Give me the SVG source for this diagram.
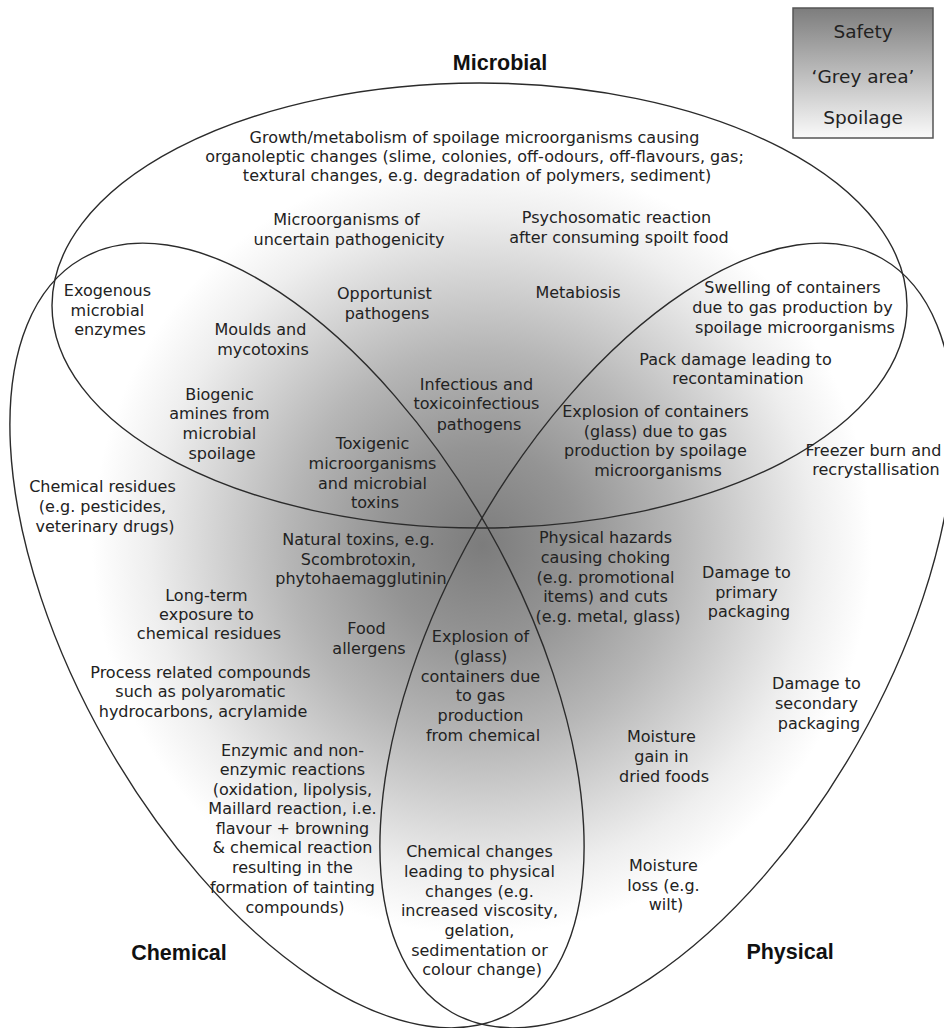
<svg xmlns="http://www.w3.org/2000/svg" width="944" height="1028" viewBox="0 0 944 1028">
<defs>
<radialGradient id="greyArea" gradientUnits="userSpaceOnUse" cx="482" cy="545" r="390">
<stop offset="0" stop-color="#7c7c7c"/>
<stop offset="0.25" stop-color="#949494"/>
<stop offset="0.5" stop-color="#b6b6b6"/>
<stop offset="0.7" stop-color="#d6d6d6"/>
<stop offset="0.85" stop-color="#eeeeee"/>
<stop offset="1" stop-color="#ffffff"/>
</radialGradient>
<linearGradient id="legendGrad" x1="0" y1="0" x2="0" y2="1">
<stop offset="0" stop-color="#7d7d7d"/>
<stop offset="1" stop-color="#fafafa"/>
</linearGradient>
<style>
.t{font-family:"DejaVu Sans",Verdana,sans-serif;font-size:16px;fill:#222;text-anchor:middle}
.h{font-family:"Liberation Sans",Arial,sans-serif;font-weight:bold;font-size:21.5px;fill:#111;text-anchor:middle}
.lg{font-family:"DejaVu Sans",Verdana,sans-serif;font-size:18.5px;fill:#222;text-anchor:middle}
.e{fill:none;stroke:#2b2b2b;stroke-width:1.4}
</style>
</defs>
<rect width="944" height="1028" fill="#ffffff"/>
<rect id="shading" width="944" height="1028" fill="url(#greyArea)"/>

<g id="legend">
<rect x="793" y="8" width="140" height="130" fill="url(#legendGrad)" stroke="#555" stroke-width="1.5"/>
<text class="lg" x="863" y="38">Safety</text>
<text class="lg" x="863" y="83">‘Grey area’</text>
<text class="lg" x="863" y="124">Spoilage</text>
</g>

<g id="connectors">
<ellipse id="microbial-set" class="e" cx="479.5" cy="305.5" rx="427.5" ry="222.5"/>
<ellipse id="chemical-set" class="e" cx="0" cy="0" rx="434" ry="219" transform="translate(297 635.5) rotate(60.3)"/>
<ellipse id="physical-set" class="e" cx="0" cy="0" rx="434" ry="219" transform="translate(667 635.5) rotate(-60.3)"/>
</g>

<g id="label-microbial"><text class="h" x="500" y="70">Microbial</text></g>
<g id="label-chemical"><text class="h" x="179" y="960">Chemical</text></g>
<g id="label-physical"><text class="h" x="790" y="959">Physical</text></g>

<g id="n-growth"><text class="t">
<tspan x="477" y="143">Growth/metabolism of spoilage microorganisms causing</tspan>
<tspan x="477" y="162">organoleptic changes (slime, colonies, off-odours, off-flavours, gas;</tspan>
<tspan x="477" y="181">textural changes, e.g. degradation of polymers, sediment)</tspan>
</text></g>

<g id="n-uncertain"><text class="t">
<tspan x="349" y="225">Microorganisms of</tspan>
<tspan x="349" y="245">uncertain pathogenicity</tspan>
</text></g>

<g id="n-psychosomatic"><text class="t">
<tspan x="619" y="223">Psychosomatic reaction</tspan>
<tspan x="619" y="243">after consuming spoilt food</tspan>
</text></g>

<g id="n-exogenous"><text class="t">
<tspan x="110" y="296">Exogenous</tspan>
<tspan x="110" y="316">microbial</tspan>
<tspan x="110" y="335">enzymes</tspan>
</text></g>

<g id="n-opportunist"><text class="t">
<tspan x="387" y="299">Opportunist</tspan>
<tspan x="387" y="319">pathogens</tspan>
</text></g>

<g id="n-metabiosis"><text class="t" x="578" y="298">Metabiosis</text></g>

<g id="n-swelling"><text class="t">
<tspan x="795" y="293">Swelling of containers</tspan>
<tspan x="795" y="313">due to gas production by</tspan>
<tspan x="795" y="333">spoilage microorganisms</tspan>
</text></g>

<g id="n-moulds"><text class="t">
<tspan x="263" y="335">Moulds and</tspan>
<tspan x="263" y="355">mycotoxins</tspan>
</text></g>

<g id="n-pack"><text class="t">
<tspan x="738" y="365">Pack damage leading to</tspan>
<tspan x="738" y="384">recontamination</tspan>
</text></g>

<g id="n-infectious"><text class="t">
<tspan x="479" y="390">Infectious and</tspan>
<tspan x="479" y="409">toxicoinfectious</tspan>
<tspan x="479" y="430">pathogens</tspan>
</text></g>

<g id="n-biogenic"><text class="t">
<tspan x="222" y="400">Biogenic</tspan>
<tspan x="222" y="419">amines from</tspan>
<tspan x="222" y="439">microbial</tspan>
<tspan x="222" y="459">spoilage</tspan>
</text></g>

<g id="n-explosion-microbial"><text class="t">
<tspan x="658" y="417">Explosion of containers</tspan>
<tspan x="658" y="437">(glass) due to gas</tspan>
<tspan x="658" y="456">production by spoilage</tspan>
<tspan x="658" y="476">microorganisms</tspan>
</text></g>

<g id="n-freezer"><text class="t">
<tspan x="876" y="456">Freezer burn and</tspan>
<tspan x="876" y="475">recrystallisation</tspan>
</text></g>

<g id="n-toxigenic"><text class="t">
<tspan x="375" y="449">Toxigenic</tspan>
<tspan x="375" y="469">microorganisms</tspan>
<tspan x="375" y="489">and microbial</tspan>
<tspan x="375" y="508">toxins</tspan>
</text></g>

<g id="n-residues"><text class="t">
<tspan x="105" y="492">Chemical residues</tspan>
<tspan x="105" y="512">(e.g. pesticides,</tspan>
<tspan x="105" y="532">veterinary drugs)</tspan>
</text></g>

<g id="n-natural"><text class="t">
<tspan x="361" y="545">Natural toxins, e.g.</tspan>
<tspan x="361" y="565">Scombrotoxin,</tspan>
<tspan x="361" y="584">phytohaemagglutinin</tspan>
</text></g>

<g id="n-physical-hazards"><text class="t">
<tspan x="608" y="543">Physical hazards</tspan>
<tspan x="608" y="563">causing choking</tspan>
<tspan x="608" y="583">(e.g. promotional</tspan>
<tspan x="608" y="602">items) and cuts</tspan>
<tspan x="608" y="622">(e.g. metal, glass)</tspan>
</text></g>

<g id="n-primary"><text class="t">
<tspan x="749" y="578">Damage to</tspan>
<tspan x="749" y="598">primary</tspan>
<tspan x="749" y="617">packaging</tspan>
</text></g>

<g id="n-longterm"><text class="t">
<tspan x="209" y="601">Long-term</tspan>
<tspan x="209" y="620">exposure to</tspan>
<tspan x="209" y="639">chemical residues</tspan>
</text></g>

<g id="n-allergens"><text class="t">
<tspan x="369" y="634">Food</tspan>
<tspan x="369" y="654">allergens</tspan>
</text></g>

<g id="n-explosion-chemical"><text class="t">
<tspan x="483" y="642">Explosion of</tspan>
<tspan x="483" y="662">(glass)</tspan>
<tspan x="483" y="682">containers due</tspan>
<tspan x="483" y="701">to gas</tspan>
<tspan x="483" y="721">production</tspan>
<tspan x="483" y="741">from chemical</tspan>
</text></g>

<g id="n-process"><text class="t">
<tspan x="203" y="678">Process related compounds</tspan>
<tspan x="203" y="697">such as polyaromatic</tspan>
<tspan x="203" y="717">hydrocarbons, acrylamide</tspan>
</text></g>

<g id="n-secondary"><text class="t">
<tspan x="819" y="689">Damage to</tspan>
<tspan x="819" y="709">secondary</tspan>
<tspan x="819" y="729">packaging</tspan>
</text></g>

<g id="n-moisture-gain"><text class="t">
<tspan x="664" y="742">Moisture</tspan>
<tspan x="664" y="762">gain in</tspan>
<tspan x="664" y="782">dried foods</tspan>
</text></g>

<g id="n-enzymic"><text class="t">
<tspan x="295" y="756">Enzymic and non-</tspan>
<tspan x="295" y="775">enzymic reactions</tspan>
<tspan x="295" y="795">(oxidation, lipolysis,</tspan>
<tspan x="295" y="814">Maillard reaction, i.e.</tspan>
<tspan x="295" y="834">flavour + browning</tspan>
<tspan x="295" y="853">&amp; chemical reaction</tspan>
<tspan x="295" y="873">resulting in the</tspan>
<tspan x="295" y="893">formation of tainting</tspan>
<tspan x="295" y="913">compounds)</tspan>
</text></g>

<g id="n-chemical-changes"><text class="t">
<tspan x="482" y="857">Chemical changes</tspan>
<tspan x="482" y="877">leading to physical</tspan>
<tspan x="482" y="897">changes (e.g.</tspan>
<tspan x="482" y="916">increased viscosity,</tspan>
<tspan x="482" y="936">gelation,</tspan>
<tspan x="482" y="956">sedimentation or</tspan>
<tspan x="482" y="975">colour change)</tspan>
</text></g>

<g id="n-moisture-loss"><text class="t">
<tspan x="666" y="871">Moisture</tspan>
<tspan x="666" y="891">loss (e.g.</tspan>
<tspan x="666" y="910">wilt)</tspan>
</text></g>
</svg>
